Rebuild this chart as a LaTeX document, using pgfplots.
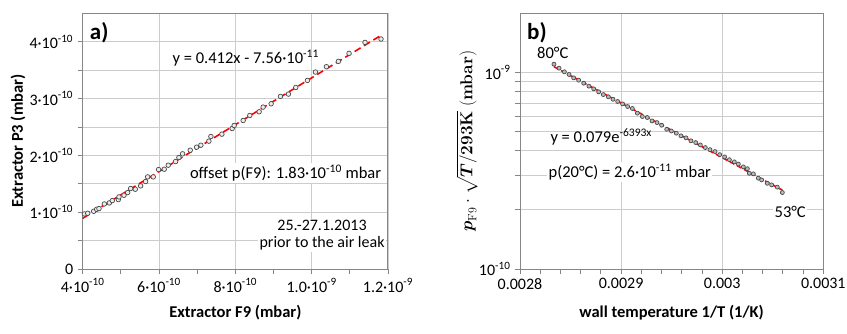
\documentclass[border=0pt]{standalone}
\usepackage[no-math]{fontspec}
\setmainfont{Carlito}
\usepackage{amsmath}
\usepackage{pgfplots}
\pgfplotsset{compat=1.18}

\definecolor{axgray}{HTML}{868686}
\definecolor{grd}{HTML}{CCCCCC}
\definecolor{mkedge}{HTML}{4A4A4A}
\definecolor{fitred}{HTML}{FF0000}

% panel a) : extractor P3 vs F9
\pgfplotstableread{
f9 p3
4.044e-10 0.969e-10
4.131e-10 0.981e-10
4.288e-10 1.016e-10
4.366e-10 1.051e-10
4.427e-10 1.063e-10
4.567e-10 1.145e-10
4.698e-10 1.163e-10
4.776e-10 1.204e-10
4.933e-10 1.222e-10
4.951e-10 1.269e-10
5.082e-10 1.298e-10
5.178e-10 1.345e-10
5.256e-10 1.416e-10
5.378e-10 1.404e-10
5.518e-10 1.463e-10
5.649e-10 1.539e-10
5.701e-10 1.621e-10
5.849e-10 1.621e-10
5.989e-10 1.750e-10
6.137e-10 1.756e-10
6.242e-10 1.827e-10
6.434e-10 1.891e-10
6.521e-10 1.962e-10
6.617e-10 2.027e-10
6.818e-10 2.091e-10
6.984e-10 2.144e-10
7.097e-10 2.179e-10
7.306e-10 2.250e-10
7.359e-10 2.332e-10
7.647e-10 2.373e-10
7.917e-10 2.473e-10
7.969e-10 2.526e-10
8.205e-10 2.614e-10
8.379e-10 2.702e-10
8.624e-10 2.767e-10
8.728e-10 2.849e-10
8.938e-10 2.908e-10
9.182e-10 3.037e-10
9.391e-10 3.078e-10
9.583e-10 3.195e-10
9.889e-10 3.319e-10
10.098e-10 3.466e-10
10.386e-10 3.560e-10
10.700e-10 3.654e-10
10.979e-10 3.795e-10
11.398e-10 3.988e-10
11.817e-10 4.047e-10
}\tabA

% panel b) : F9 pressure vs inverse wall temperature
\pgfplotstableread{
invT pres
0.0028336 1.102e-9
0.0028386 1.052e-9
0.0028439 1.008e-9
0.0028485 9.77e-10
0.0028531 9.39e-10
0.0028580 9.14e-10
0.0028630 8.82e-10
0.0028682 8.52e-10
0.0028729 8.26e-10
0.0028778 7.97e-10
0.0028824 7.72e-10
0.0028874 7.52e-10
0.0028920 7.31e-10
0.0028966 7.12e-10
0.0029015 6.92e-10
0.0029065 6.71e-10
0.0029111 6.56e-10
0.0029161 6.21e-10
0.0029210 5.97e-10
0.0029259 5.90e-10
0.0029306 5.67e-10
0.0029355 5.56e-10
0.0029401 5.39e-10
0.0029451 5.14e-10
0.0029497 5.04e-10
0.0029546 4.91e-10
0.0029592 4.76e-10
0.0029642 4.65e-10
0.0029691 4.49e-10
0.0029738 4.40e-10
0.0029784 4.28e-10
0.0029833 4.15e-10
0.0029879 4.05e-10
0.0029929 3.96e-10
0.0029975 3.82e-10
0.0030024 3.72e-10
0.0030071 3.60e-10
0.0030120 3.51e-10
0.0030160 3.42e-10
0.0030209 3.31e-10
0.0030249 3.24e-10
0.0030268 3.07e-10
0.0030308 3.05e-10
0.0030357 2.90e-10
0.0030390 2.84e-10
0.0030446 2.73e-10
0.0030489 2.68e-10
0.0030545 2.61e-10
0.0030595 2.45e-10
}\tabB

\pgfplotsset{
  panel/.style={
    scale only axis,
    anchor=south west,
    height=255.7pt,
    scaled ticks=false,
    axis line style={axgray, line width=1pt},
    tick style={axgray, line width=0.8pt},
    tick align=outside,
    tick pos=left,
    major tick length=5pt,
    minor tick length=5pt,
    grid style={grd, line width=0.8pt},
    font=\fontsize{16.5}{19}\selectfont,
    tick label style={font=\fontsize{16}{18}\selectfont},
    label style={font=\bfseries\fontsize{16.5}{19}\selectfont},
    clip=false,
  },
}

\begin{document}
\begin{tikzpicture}[x=1pt,y=1pt]
\useasboundingbox (0,0) rectangle (847,333);

% ---------- a) ----------
\begin{axis}[panel,
  at={(82.7pt,64pt)},
  width=305.3pt,
  xmin=4e-10, xmax=1.2e-9,
  ymin=0, ymax=4.5e-10,
  xtick={4e-10,6e-10,8e-10,1e-9,1.2e-9},
  xticklabels={4·10\textsuperscript{-10},6·10\textsuperscript{-10},8·10\textsuperscript{-10},1.0·10\textsuperscript{-9},1.2·10\textsuperscript{-9}},
  minor xtick={5e-10,7e-10,9e-10,1.1e-9},
  ytick={0,1e-10,2e-10,3e-10,4e-10},
  yticklabels={0,1·10\textsuperscript{-10},2·10\textsuperscript{-10},3·10\textsuperscript{-10},4·10\textsuperscript{-10}},
  minor ytick={0.5e-10,1.5e-10,2.5e-10,3.5e-10},
  xmajorgrids, ymajorgrids, yminorgrids,
  xlabel={Extractor F9 (mbar)},
  ylabel={Extractor P3 (mbar)},
  xlabel style={at={(axis description cs:0.5,-0.172)}, anchor=center},
  ylabel style={at={(axis description cs:-0.212,0.5)}, anchor=center},
  xticklabel style={yshift=-1pt},
  yticklabel style={xshift=-1pt},
]
\addplot[only marks, mark=*, mark size=2.3pt,
  mark options={draw=mkedge, fill=gray!15, line width=0.7pt}]
  table[x=f9, y=p3]{\tabA};
\addplot[fitred, line width=1.6pt, dash pattern=on 7pt off 4pt]
  coordinates {(4e-10,0.892e-10) (11.78e-10,4.097e-10)};
\node[anchor=west, font=\bfseries\fontsize{23}{25}\selectfont]
  at (rel axis cs:0.012,0.923) {a)};
\node[anchor=west] at (rel axis cs:0.283,0.825)
  {y = 0.412x - 7.56·10\textsuperscript{-11}};
\node[anchor=west, fill=white, inner sep=1.5pt] at (rel axis cs:0.346,0.375)
  {offset p(F9): 1.83·10\textsuperscript{-10} mbar};
\node[align=center, fill=white, inner sep=1.5pt,
  font=\fontsize{16}{17}\selectfont] at (rel axis cs:0.784,0.131)
  {25.-27.1.2013\\prior to the air leak};
\end{axis}

% ---------- b) ----------
\begin{axis}[panel,
  at={(520pt,64pt)},
  width=303.3pt,
  ymode=log,
  xmin=0.0028, xmax=0.0031,
  ymin=1e-10, ymax=2e-9,
  xtick={0.0028,0.0029,0.003,0.0031},
  xticklabels={0.0028,0.0029,0.003,0.0031},
  minor xtick={0.00282,0.00284,0.00286,0.00288,0.00292,0.00294,0.00296,0.00298,0.00302,0.00304,0.00306,0.00308},
  ytick={1e-10,1e-9},
  yticklabels={10\textsuperscript{-10},10\textsuperscript{-9}},
  minor ytick={2e-10,3e-10,4e-10,5e-10,6e-10,7e-10,8e-10,9e-10},
  xmajorgrids, ymajorgrids, yminorgrids,
  xlabel={wall temperature 1/T (1/K)},
  ylabel={$\boldsymbol{p}_{\mathrm{F9}}\cdot\sqrt{\boldsymbol{T}/\mathbf{293K}}\ \mathbf{(mbar)}$},
  xlabel style={at={(axis description cs:0.5,-0.172)}, anchor=center},
  ylabel style={at={(axis description cs:-0.175,0.5)}, anchor=center,
    font=\bfseries\fontsize{18}{20}\selectfont},
  xticklabel style={yshift=-1pt},
  yticklabel style={xshift=-1pt},
]
\addplot[only marks, mark=*, mark size=2pt,
  mark options={draw=mkedge, fill=gray!55, line width=0.7pt}]
  table[x=invT, y=pres]{\tabB};
\addplot[fitred, line width=1.6pt, dash pattern=on 5pt off 3pt]
  coordinates {(0.0028336,1.07e-9) (0.0030595,2.52e-10)};
\node[anchor=west, font=\bfseries\fontsize{23}{25}\selectfont]
  at (rel axis cs:0.012,0.923) {b)};
\node[anchor=west] at (rel axis cs:0.045,0.845) {80°C};
\node[anchor=west] at (rel axis cs:0.089,0.516)
  {y = 0.079e\textsuperscript{-6393x}};
\node[anchor=west, fill=white, inner sep=1.5pt] at (rel axis cs:0.089,0.379)
  {p(20°C) = 2.6·10\textsuperscript{-11} mbar};
\node[anchor=west, fill=white, inner sep=1.5pt] at (rel axis cs:0.834,0.223)
  {53°C};
\end{axis}
\end{tikzpicture}
\end{document}
